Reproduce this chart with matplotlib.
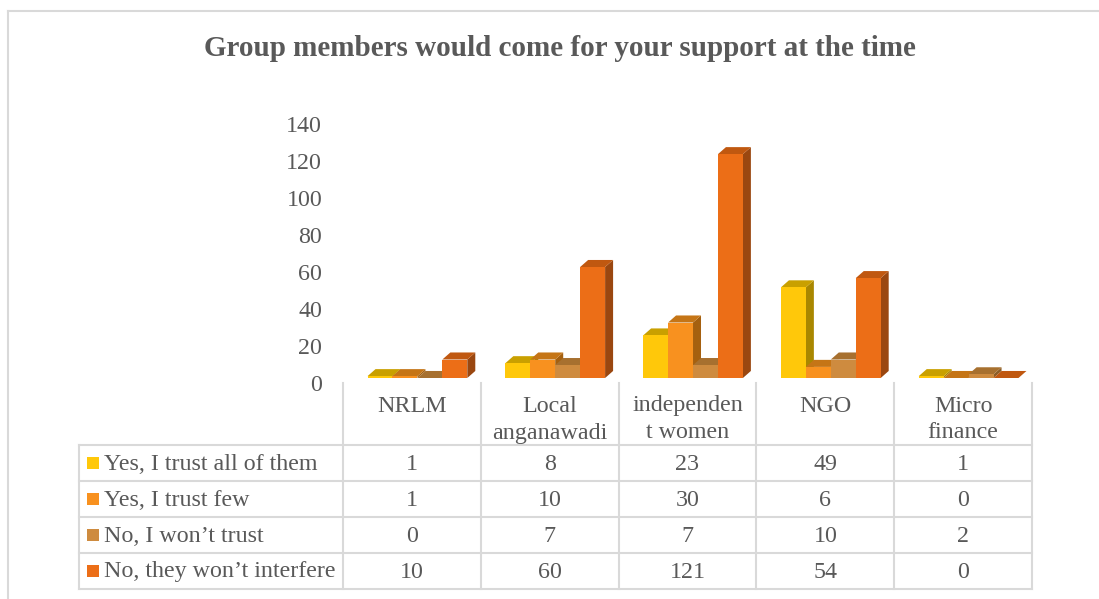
import matplotlib.pyplot as plt
from matplotlib.patches import Polygon, Rectangle
from matplotlib.transforms import ScaledTranslation

plt.rcParams['font.family'] = ['Liberation Serif', 'DejaVu Serif']

title = "Group members would come for your support at the time"
categories = ["NRLM", "Local\nanganawadi", "independen\nt women", "NGO", "Micro\nfinance"]
series = ["Yes, I trust all of them", "Yes, I trust few",
          "No, I won\u2019t trust", "No, they won\u2019t interfere"]
trust_all = [1, 8, 23, 49, 1]
trust_few = [1, 10, 30, 6, 0]
wont_trust = [0, 7, 7, 10, 2]
wont_interfere = [10, 60, 121, 54, 0]
values = [trust_all, trust_few, wont_trust, wont_interfere]

front_c = ["#FFC80A", "#F8911F", "#CE8B3F", "#EC6E17"]
top_c = ["#C9A000", "#C57516", "#A7702F", "#C05810"]
side_c = ["#A98700", "#A5600F", "#8C5E27", "#9A4710"]

text_c = "#595959"
grid_c = "#D9D9D9"
fs = 17.3

W, H = 1099, 599
fig = plt.figure(figsize=(W / 100, H / 100), dpi=100)

# pixel-space layer for frame, title and data table
bg = fig.add_axes([0, 0, 1, 1])
bg.set_xlim(0, W)
bg.set_ylim(H, 0)
bg.axis('off')

bg.plot([8, 8], [11, H], color=grid_c, lw=1.5)
bg.plot([8, W], [11, 11], color=grid_c, lw=1.5)
bg.text(560, 49, title, ha='center', va='center', fontsize=21,
        fontweight='bold', color=text_c)

# chart area
x0, x1 = 343, 1032
base = 378
scale = 1.85
ymax = 150
ax = fig.add_axes([x0 / W, 1 - base / H, (x1 - x0) / W, ymax * scale / H])
ax.set_xlim(0, len(categories))
ax.set_ylim(0, ymax)
ax.patch.set_alpha(0)
for sp in ax.spines.values():
    sp.set_visible(False)
ax.set_xticks([])
ax.set_yticks(range(0, 141, 20))
ax.tick_params(axis='y', length=0, pad=15, labelsize=fs, labelcolor=text_c)
shift = ScaledTranslation(0, -5 / 100, fig.dpi_scale_trans)
for lab in ax.get_yticklabels():
    lab.set_transform(lab.get_transform() + shift)

bw = 0.181
off = 0.178
dx = 0.058
dy = 3.8
for s, vals in enumerate(values):
    for i, v in enumerate(vals):
        l = i + off + s * bw
        r = l + bw
        z = 10 + s
        ax.add_patch(Polygon([(r, 0), (r + dx, dy), (r + dx, v + dy), (r, v)],
                             closed=True, facecolor=side_c[s], edgecolor='none',
                             zorder=z, clip_on=False))
        ax.add_patch(Polygon([(l, v), (r, v), (r + dx, v + dy), (l + dx, v + dy)],
                             closed=True, facecolor=top_c[s], edgecolor='none',
                             zorder=z, clip_on=False))
        ax.add_patch(Rectangle((l, 0), bw, v, facecolor=front_c[s],
                               edgecolor='none', zorder=z, clip_on=False))

# data table
col_w = (x1 - x0) / len(categories)
rows_y = [445, 481, 517, 553, 589]
for y in rows_y:
    bg.plot([79, x1], [y, y], color=grid_c, lw=1.5)
bg.plot([79, 79], [rows_y[0], rows_y[-1]], color=grid_c, lw=1.5)
for k in range(len(categories) + 1):
    x = x0 + k * col_w
    bg.plot([x, x], [383, rows_y[-1]], color=grid_c, lw=1.5)

for i, cat in enumerate(categories):
    cx = x0 + (i + 0.5) * col_w
    for j, line in enumerate(cat.split("\n")):
        bg.text(cx, 406 + 27 * j, line, ha='center', va='center',
                fontsize=fs, color=text_c)

for s, name in enumerate(series):
    cy = (rows_y[s] + rows_y[s + 1]) / 2
    bg.add_patch(Rectangle((87, cy - 6), 12, 12, facecolor=front_c[s],
                           edgecolor='none'))
    bg.text(104, cy + 1, name, ha='left', va='center', fontsize=fs, color=text_c)
    for i, v in enumerate(values[s]):
        bg.text(x0 + (i + 0.5) * col_w, cy + 1, str(v), ha='center', va='center',
                fontsize=fs, color=text_c)

fig.savefig('out.png', dpi=100)
